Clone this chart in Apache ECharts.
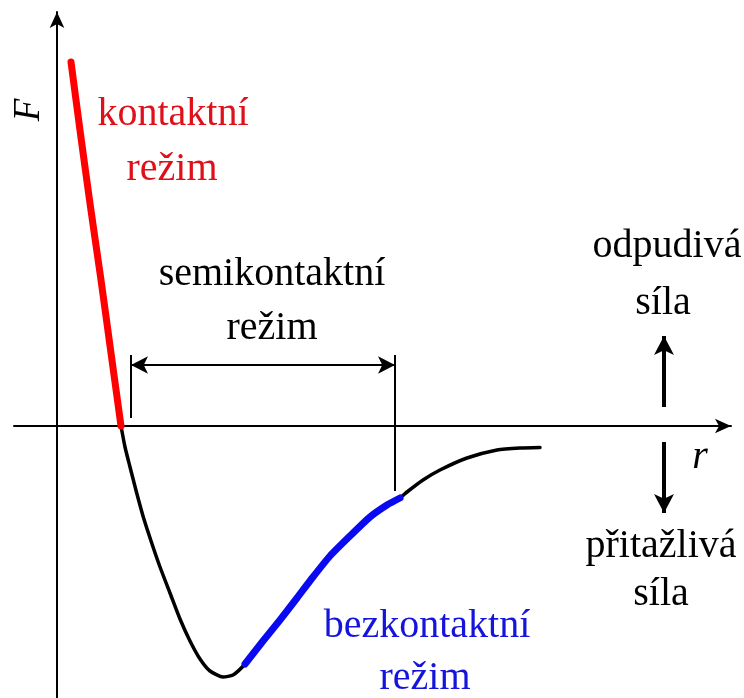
<!DOCTYPE html>
<html>
<head>
<meta charset="utf-8">
<script src="https://cdn.jsdelivr.net/npm/echarts@6/dist/echarts.min.js"></script>
<style>
  html, body { margin: 0; padding: 0; background: #ffffff; }
  #chart { width: 744px; height: 698px; }
</style>
</head>
<body>
<div id="chart"></div>
<script>
// Force F(r) between tip and sample, split into the three operating regimes.
// Distances r and forces F are in arbitrary units.
const contactCurve = [[1.4, 36.4], [2.35, 29.2], [3.35, 21.9], [4.4, 14.6], [5.4, 7.3], [6.4, 0]];
const wellCurve = [[6.4, 0], [6.8, -2.1], [7.3, -4.1], [7.97, -6.7], [8.63, -9.1], [9.47, -11.7],
                   [10.3, -14.1], [11.3, -16.7], [12.3, -19.3], [13.3, -21.5], [14.3, -23.3],
                   [15.3, -24.5], [16.6, -25.1], [17.6, -24.9], [18.8, -23.8]];
const noncontactCurve = [[18.8, -23.8], [20.6, -21.5], [22.3, -19.4], [24.0, -17.2], [25.6, -15.1],
                         [27.3, -13.0], [29.3, -11.0], [31.3, -9.1], [33.0, -7.9], [34.3, -7.2]];
const tailCurve = [[34.3, -7.2], [35.0, -6.6], [36.6, -5.4], [38.3, -4.4], [41.0, -3.2],
                   [44.0, -2.4], [46.3, -2.2], [48.3, -2.15]];

// Semicontact range bracket: its two bounds and the height of the double arrow
const semiBounds = [7.4, 33.8];
const semiTickTop = 7.1;
const semiLeftBottom = 0.8;
const semiRightBottom = -6.5;
const semiArrowF = 6.1;

// Repulsive / attractive direction arrows
const dirArrowR = 60.7;
const repulsiveArrow = [1.9, 9.0];
const attractiveArrow = [-1.6, -8.7];

const RED = '#ff0000';
const BLUE = '#0a0af0';
const RED_TEXT = '#e0101a';
const BLUE_TEXT = '#1414dc';
const INK = '#000000';
const SERIF = '"Liberation Serif", "DejaVu Serif", serif';
const FONT_SIZE = 40;

// The attractive branch is one continuous black curve; the coloured regimes are drawn over it.
const attractiveBranch = wellCurve.concat(noncontactCurve.slice(1), tailCurve.slice(1));

const chart = echarts.init(document.getElementById('chart'), null, { renderer: 'canvas' });

function curve(data, color, width) {
  return {
    type: 'line', data: data, showSymbol: false, symbol: 'none',
    smooth: 0.2, silent: true, animation: false,
    lineStyle: { color: color, width: width, cap: 'round', join: 'round' }
  };
}

function text(str, x, y, color, extra) {
  return Object.assign({
    type: 'text', x: x, y: y, silent: true,
    style: { text: str, fill: color, font: FONT_SIZE + 'px ' + SERIF, align: 'center', verticalAlign: 'middle' }
  }, extra || {});
}

const dirArrowStyle = { width: 4, type: 'solid', color: INK };

chart.setOption({
  animation: false,
  grid: { left: 14, right: 13, top: 12, bottom: 0, containLabel: false },
  xAxis: {
    type: 'value', min: -4.3, max: 67.4,
    axisLine: { show: true, onZero: true, symbol: ['none', 'arrow'], symbolSize: [11, 16],
                lineStyle: { color: INK, width: 2 } },
    axisTick: { show: false }, axisLabel: { show: false }, splitLine: { show: false }
  },
  yAxis: {
    type: 'value', min: -27.2, max: 41.4,
    axisLine: { show: true, onZero: true, symbol: ['none', 'arrow'], symbolSize: [11, 16],
                lineStyle: { color: INK, width: 2 } },
    axisTick: { show: false }, axisLabel: { show: false }, splitLine: { show: false }
  },
  series: [
    curve(attractiveBranch, INK, 3.5),
    curve(contactCurve, RED, 7),
    curve(noncontactCurve, BLUE, 7),
    // bracket ticks of the semicontact range
    { type: 'line', data: [[semiBounds[0], semiTickTop], [semiBounds[0], semiLeftBottom]],
      symbol: 'none', silent: true, lineStyle: { color: INK, width: 2 } },
    { type: 'line', data: [[semiBounds[1], semiTickTop], [semiBounds[1], semiRightBottom]],
      symbol: 'none', silent: true, lineStyle: { color: INK, width: 2 } },
    // arrows drawn as mark lines
    { type: 'line', data: [], silent: true,
      markLine: {
        silent: true, animation: false, label: { show: false },
        symbol: ['arrow', 'arrow'], symbolSize: [13, 17],
        lineStyle: { type: 'solid', color: INK, width: 2 },
        data: [
          [{ coord: [semiBounds[0], semiArrowF], symbol: 'arrow' },
           { coord: [semiBounds[1], semiArrowF], symbol: 'arrow' }],
          [{ coord: [dirArrowR, repulsiveArrow[0]], symbol: 'none' },
           { coord: [dirArrowR, repulsiveArrow[1]], symbol: 'arrow', symbolSize: [15, 19], lineStyle: dirArrowStyle }],
          [{ coord: [dirArrowR, attractiveArrow[0]], symbol: 'none' },
           { coord: [dirArrowR, attractiveArrow[1]], symbol: 'arrow', symbolSize: [15, 19], lineStyle: dirArrowStyle }]
        ]
      }
    }
  ],
  graphic: [
    text('kontaktní', 173, 114, RED_TEXT),
    text('režim', 172, 169, RED_TEXT),
    text('semikontaktní', 272, 274, INK),
    text('režim', 272, 328, INK),
    text('odpudivá', 667, 246, INK),
    text('síla', 663, 303, INK),
    text('přitažlivá', 661, 546, INK),
    text('síla', 661, 594, INK),
    text('bezkontaktní', 427, 626, BLUE_TEXT),
    text('režim', 425, 678, BLUE_TEXT),
    { type: 'text', x: 700, y: 457, silent: true,
      style: { text: 'r', fill: INK, font: 'italic ' + FONT_SIZE + 'px ' + SERIF, align: 'center', verticalAlign: 'middle' } },
    { type: 'text', x: 29, y: 110, rotation: Math.PI / 2, silent: true,
      style: { text: 'F', fill: INK, font: 'italic 37px ' + SERIF, align: 'center', verticalAlign: 'middle' } }
  ]
});
</script>
</body>
</html>
